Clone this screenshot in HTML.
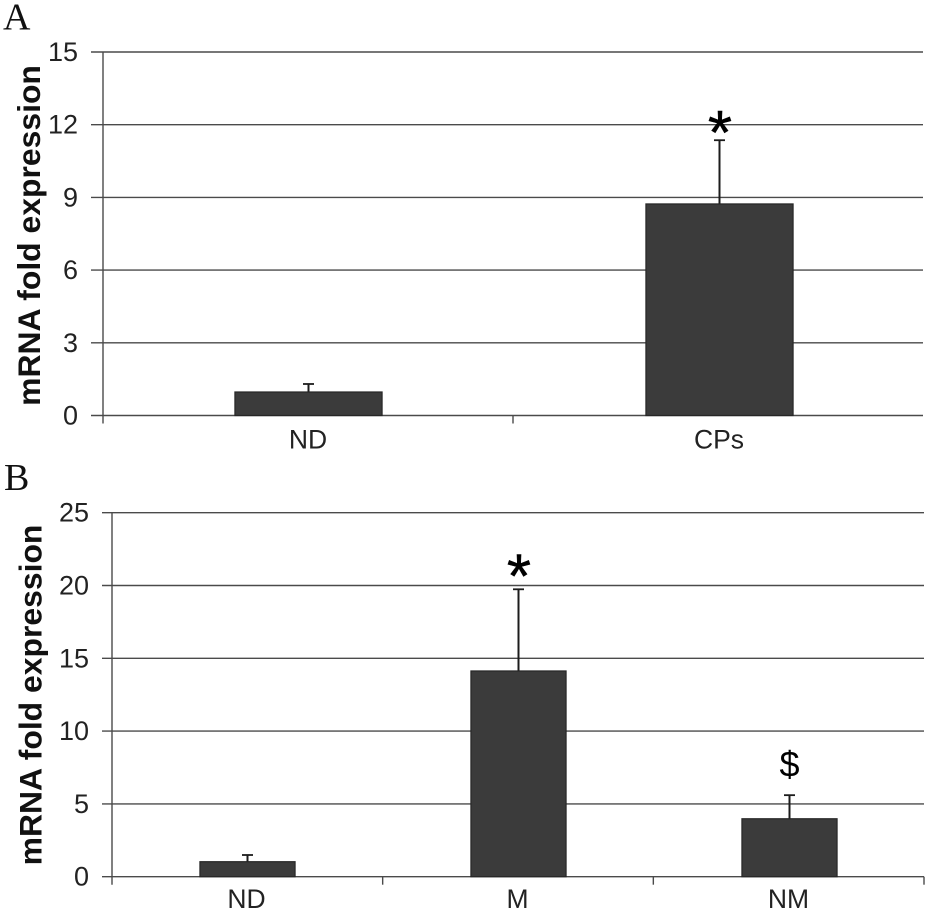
<!DOCTYPE html>
<html lang="en">
<head>
<meta charset="utf-8">
<title>mRNA fold expression</title>
<style>
html,body{margin:0;padding:0;background:#fff;}
svg{display:block;}
text{font-family:"Liberation Sans",sans-serif;fill:#222;}
</style>
</head>
<body>
<svg id="fig" xmlns="http://www.w3.org/2000/svg" width="929" height="913" viewBox="0 0 929 913"></svg>
<script>
const categoriesA = ['ND', 'CPs'];
const valuesA = [0.97, 8.73];
const errorsA = [0.33, 2.63];
const marksA = ['', '*'];
const ticksA = [0, 3, 6, 9, 12, 15];

const categoriesB = ['ND', 'M', 'NM'];
const valuesB = [1.03, 14.13, 3.98];
const errorsB = [0.46, 5.61, 1.62];
const marksB = ['', '*', '$'];
const ticksB = [0, 5, 10, 15, 20, 25];

const svg = document.getElementById('fig');
const NS = 'http://www.w3.org/2000/svg';
function make(parent, tag, attrs, txt) {
  const el = document.createElementNS(NS, tag);
  for (const k in attrs) el.setAttribute(k, attrs[k]);
  if (txt !== undefined) el.textContent = txt;
  parent.appendChild(el);
  return el;
}
function drawPanel(cfg) {
  const g = make(svg, 'g', {});
  
  
  const maxT = Math.max.apply(null, cfg.ticks);
  const y = v => cfg.y0 - (v / maxT) * (cfg.y0 - cfg.yTop);
  const tickBand = (cfg.x1 - cfg.x0) / cfg.cats.length;
  const band = (cfg.barEnd - cfg.x0) / cfg.cats.length;
  const xc = i => cfg.x0 + band * (i + 0.5);
  const lineCol = '#4a4a4a';

  const panelLabel = make(g, 'text', {x: cfg.labelX, y: cfg.labelY, 'font-size': 38, style: 'font-family:"Liberation Serif",serif;fill:#111'}, cfg.id);
  
  

  const title = make(g, 'text', {x: 0, y: 0, 'font-size': 31.9, 'font-weight': 'bold', 'text-anchor': 'middle', transform: 'translate(' + cfg.titleX + ' ' + cfg.titleY + ') rotate(-90)', style: 'fill:#111'}, 'mRNA fold expression');
  
  

  cfg.ticks.forEach(t => {
    const line = make(g, 'line', {x1: cfg.x0 - cfg.tickLen, x2: cfg.x1, y1: y(t), y2: y(t), stroke: lineCol, 'stroke-width': 1.4});
    
    
    const lab = make(g, 'text', {x: cfg.x0 - cfg.tickLen - 13, y: y(t) + 9, 'font-size': 27, 'text-anchor': 'end'}, String(t));
    
    
  });

  const axis = make(g, 'line', {x1: cfg.x0, x2: cfg.x0, y1: y(maxT), y2: cfg.y0 + 8, stroke: lineCol, 'stroke-width': 1.4});
  
  

  for (let i = 1; i <= cfg.cats.length; i++) {
    if (i === cfg.cats.length && !cfg.lastTick) continue;
    const tx = cfg.x0 + tickBand * i;
    const tick = make(g, 'line', {x1: tx, x2: tx, y1: cfg.y0, y2: cfg.y0 + 8, stroke: lineCol, 'stroke-width': 1.4});
    
    
  }

  cfg.cats.forEach((c, i) => {
    const cx = xc(i);
    const w = band * cfg.barRatio;
    const top = y(cfg.vals[i]);
    const errTop = y(cfg.vals[i] + cfg.errs[i]);

    const stem = make(g, 'line', {x1: cx, x2: cx, y1: top, y2: errTop, stroke: '#1c1c1c', 'stroke-width': 2});
    
    
    const cap = make(g, 'line', {x1: cx - 5.5, x2: cx + 5.5, y1: errTop, y2: errTop, stroke: '#1c1c1c', 'stroke-width': 1.8});
    
    

    const bar = make(g, 'rect', {x: cx - w / 2, y: top, width: w, height: cfg.y0 - top, fill: '#3b3b3b', stroke: '#262626', 'stroke-width': 1.2});
    
    

    const lab = make(g, 'text', {x: cx - cfg.catShift, y: cfg.catY, 'font-size': 26.5, 'text-anchor': 'middle'}, c);
    
    

    const m = cfg.marks[i];
    if (m === '*') {
      const star = make(g, 'text', {x: cx + 0.5, y: errTop + cfg.starOffset, 'font-size': 62, 'text-anchor': 'middle', stroke: '#000', 'stroke-width': 0.5, style: 'fill:#000'}, m);
      
      
    } else if (m) {
      const dollar = make(g, 'text', {x: cx, y: errTop - 18.5, 'font-size': 36, 'text-anchor': 'middle', style: 'fill:#000'}, m);
      
      
    }
  });
}
drawPanel({id: 'A', cats: categoriesA, vals: valuesA, errs: errorsA, marks: marksA, ticks: ticksA,
  x0: 103, x1: 923, barEnd: 925, y0: 415.5, yTop: 52, tickLen: 12, barRatio: 0.358, lastTick: false,
  labelX: 3, labelY: 29.5, titleX: 40, titleY: 235.5, catY: 448.5, catShift: 0.5, starOffset: 14});
drawPanel({id: 'B', cats: categoriesB, vals: valuesB, errs: errorsB, marks: marksB, ticks: ticksB,
  x0: 112, x1: 924, barEnd: 925, y0: 876.7, yTop: 512.7, tickLen: 10, barRatio: 0.351, lastTick: true,
  labelX: 4, labelY: 490, titleX: 41.7, titleY: 695, catY: 908, catShift: 1, starOffset: 8});
</script>
</body>
</html>
